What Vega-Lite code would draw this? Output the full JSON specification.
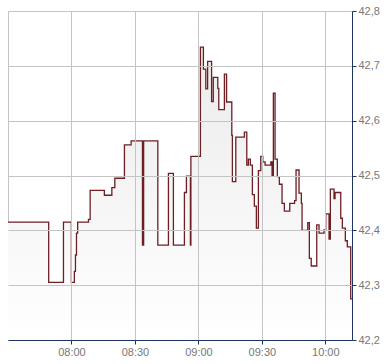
{
  "$schema": "https://vega.github.io/schema/vega-lite/v6.json",
  "width": 344,
  "height": 329,
  "autosize": "none",
  "padding": {"left": 8, "top": 11, "right": 38, "bottom": 24},
  "background": "#ffffff",
  "config": {
    "locale": {"number": {"decimal": ",", "thousands": ".", "grouping": [3], "currency": ["", " €"]}},
    "view": {"stroke": "#c4c4c4", "strokeWidth": 1},
    "axis": {"labelFont": "Liberation Sans", "labelFontSize": 11, "labelColor": "#777777", "gridColor": "#c4c4c4", "gridWidth": 1, "domainColor": "#1f3263", "tickColor": "#1f3263", "tickSize": 4}
  },
  "data": {"values": [
    {"t": "2024-01-01T07:30:00", "v": 42.415},
    {"t": "2024-01-01T07:49:14", "v": 42.305},
    {"t": "2024-01-01T07:56:13", "v": 42.415},
    {"t": "2024-01-01T07:59:57", "v": 42.305},
    {"t": "2024-01-01T08:01:22", "v": 42.325},
    {"t": "2024-01-01T08:01:53", "v": 42.355},
    {"t": "2024-01-01T08:02:22", "v": 42.395},
    {"t": "2024-01-01T08:02:56", "v": 42.415},
    {"t": "2024-01-01T08:08:02", "v": 42.42},
    {"t": "2024-01-01T08:08:50", "v": 42.473},
    {"t": "2024-01-01T08:15:33", "v": 42.464},
    {"t": "2024-01-01T08:19:05", "v": 42.478},
    {"t": "2024-01-01T08:20:30", "v": 42.495},
    {"t": "2024-01-01T08:25:02", "v": 42.556},
    {"t": "2024-01-01T08:28:12", "v": 42.563},
    {"t": "2024-01-01T08:33:33", "v": 42.373},
    {"t": "2024-01-01T08:34:07", "v": 42.563},
    {"t": "2024-01-01T08:40:49", "v": 42.373},
    {"t": "2024-01-01T08:45:50", "v": 42.504},
    {"t": "2024-01-01T08:48:11", "v": 42.373},
    {"t": "2024-01-01T08:53:23", "v": 42.469},
    {"t": "2024-01-01T08:54:20", "v": 42.499},
    {"t": "2024-01-01T08:56:13", "v": 42.373},
    {"t": "2024-01-01T08:56:27", "v": 42.535},
    {"t": "2024-01-01T09:00:57", "v": 42.734},
    {"t": "2024-01-01T09:02:22", "v": 42.694},
    {"t": "2024-01-01T09:03:30", "v": 42.658},
    {"t": "2024-01-01T09:04:21", "v": 42.708},
    {"t": "2024-01-01T09:06:14", "v": 42.635},
    {"t": "2024-01-01T09:07:02", "v": 42.679},
    {"t": "2024-01-01T09:09:10", "v": 42.659},
    {"t": "2024-01-01T09:09:38", "v": 42.62},
    {"t": "2024-01-01T09:12:17", "v": 42.685},
    {"t": "2024-01-01T09:13:19", "v": 42.634},
    {"t": "2024-01-01T09:15:47", "v": 42.573},
    {"t": "2024-01-01T09:16:04", "v": 42.489},
    {"t": "2024-01-01T09:17:40", "v": 42.57},
    {"t": "2024-01-01T09:21:44", "v": 42.579},
    {"t": "2024-01-01T09:22:52", "v": 42.519},
    {"t": "2024-01-01T09:23:37", "v": 42.53},
    {"t": "2024-01-01T09:24:34", "v": 42.519},
    {"t": "2024-01-01T09:25:31", "v": 42.465},
    {"t": "2024-01-01T09:26:27", "v": 42.444},
    {"t": "2024-01-01T09:27:24", "v": 42.404},
    {"t": "2024-01-01T09:28:21", "v": 42.509},
    {"t": "2024-01-01T09:29:29", "v": 42.535},
    {"t": "2024-01-01T09:30:26", "v": 42.525},
    {"t": "2024-01-01T09:31:31", "v": 42.519},
    {"t": "2024-01-01T09:34:12", "v": 42.525},
    {"t": "2024-01-01T09:34:49", "v": 42.499},
    {"t": "2024-01-01T09:35:26", "v": 42.65},
    {"t": "2024-01-01T09:36:14", "v": 42.53},
    {"t": "2024-01-01T09:37:19", "v": 42.498},
    {"t": "2024-01-01T09:38:16", "v": 42.484},
    {"t": "2024-01-01T09:39:32", "v": 42.449},
    {"t": "2024-01-01T09:40:38", "v": 42.435},
    {"t": "2024-01-01T09:43:11", "v": 42.449},
    {"t": "2024-01-01T09:45:27", "v": 42.454},
    {"t": "2024-01-01T09:46:09", "v": 42.51},
    {"t": "2024-01-01T09:47:34", "v": 42.468},
    {"t": "2024-01-01T09:48:40", "v": 42.449},
    {"t": "2024-01-01T09:49:00", "v": 42.40},
    {"t": "2024-01-01T09:51:41", "v": 42.414},
    {"t": "2024-01-01T09:52:26", "v": 42.349},
    {"t": "2024-01-01T09:53:20", "v": 42.335},
    {"t": "2024-01-01T09:55:56", "v": 42.41},
    {"t": "2024-01-01T09:57:01", "v": 42.395},
    {"t": "2024-01-01T09:59:23", "v": 42.401},
    {"t": "2024-01-01T10:00:11", "v": 42.43},
    {"t": "2024-01-01T10:01:45", "v": 42.384},
    {"t": "2024-01-01T10:02:22", "v": 42.475},
    {"t": "2024-01-01T10:04:06", "v": 42.458},
    {"t": "2024-01-01T10:04:35", "v": 42.469},
    {"t": "2024-01-01T10:07:17", "v": 42.422},
    {"t": "2024-01-01T10:08:02", "v": 42.404},
    {"t": "2024-01-01T10:09:27", "v": 42.381},
    {"t": "2024-01-01T10:10:23", "v": 42.37},
    {"t": "2024-01-01T10:12:00", "v": 42.275},
    {"t": "2024-01-01T10:12:36", "v": 42.275}
  ]},
  "encoding": {
    "x": {
      "field": "t", "type": "temporal", "title": null,
      "scale": {"domain": [
        {"year": 2024, "month": 1, "date": 1, "hours": 7, "minutes": 30},
        {"year": 2024, "month": 1, "date": 1, "hours": 10, "minutes": 12, "seconds": 36}
      ], "nice": false},
      "axis": {
        "orient": "bottom", "format": "%H:%M", "labelFlush": false, "labelPadding": 2, "zindex": 1,
        "values": [
          {"year": 2024, "month": 1, "date": 1, "hours": 8, "minutes": 0},
          {"year": 2024, "month": 1, "date": 1, "hours": 8, "minutes": 30},
          {"year": 2024, "month": 1, "date": 1, "hours": 9, "minutes": 0},
          {"year": 2024, "month": 1, "date": 1, "hours": 9, "minutes": 30},
          {"year": 2024, "month": 1, "date": 1, "hours": 10, "minutes": 0}
        ]
      }
    },
    "y": {
      "field": "v", "type": "quantitative", "title": null,
      "scale": {"domain": [42.2, 42.8], "zero": false, "nice": false},
      "axis": {"orient": "right", "values": [42.2, 42.3, 42.4, 42.5, 42.6, 42.7, 42.8], "format": ".1f", "labelPadding": 2, "labelFlush": false, "zindex": 1}
    }
  },
  "layer": [
    {
      "mark": {"type": "area", "interpolate": "step-after", "color": {"gradient": "linear", "x1": 0, "y1": 0, "x2": 0, "y2": 1, "stops": [{"offset": 0, "color": "#ebebeb"}, {"offset": 1, "color": "#ffffff"}]}},
      "encoding": {"y2": {"datum": 42.2}}
    },
    {
      "mark": {"type": "line", "interpolate": "step-after", "color": "#6d1f24", "strokeWidth": 1.3}
    }
  ]
}
